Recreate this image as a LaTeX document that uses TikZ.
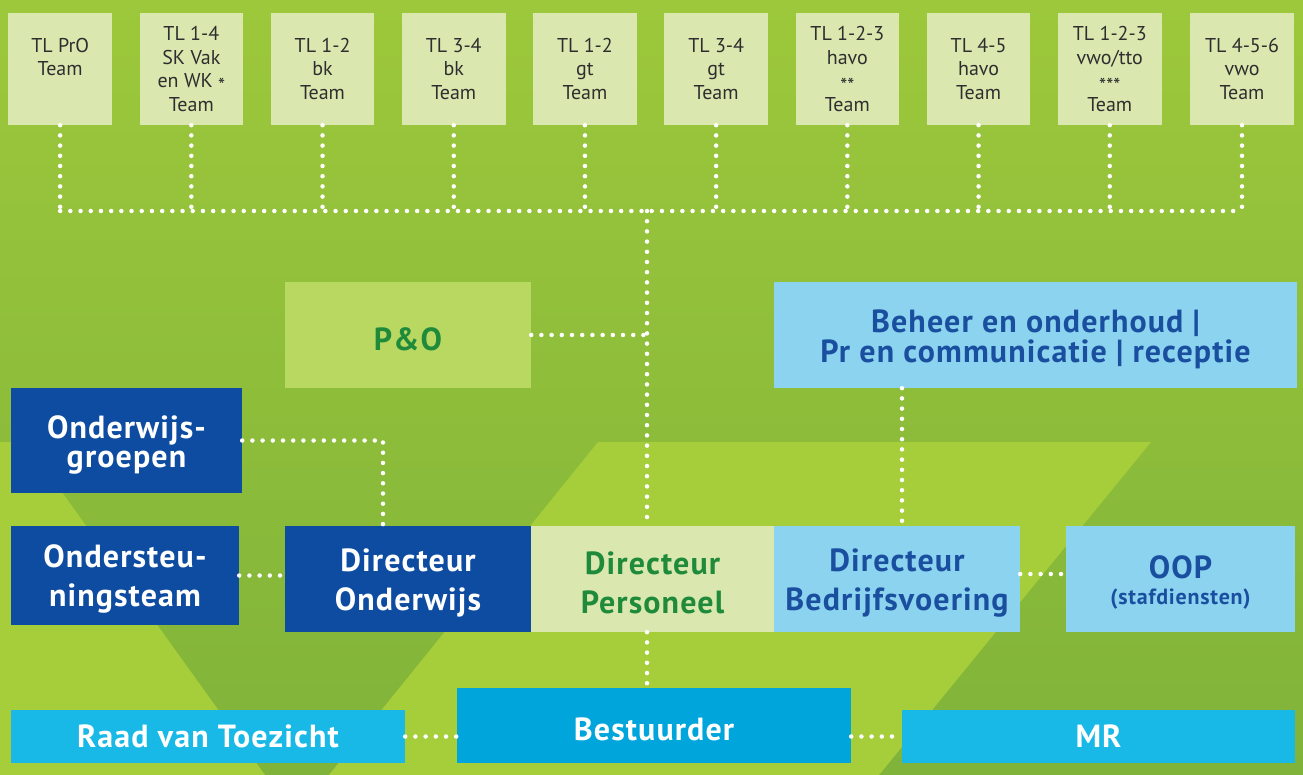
\documentclass[tikz,border=0pt]{standalone}
\usepackage{fontspec}
\setmainfont{PT Sans}[BoldFeatures={LetterSpace=3.5}]
\setlength{\lineskiplimit}{-100pt}
\definecolor{bgtop}{HTML}{9DC83B}
\definecolor{bgbot}{HTML}{80B33A}
\definecolor{lightg}{HTML}{A6CE3A}
\definecolor{paleg}{HTML}{DAE8B0}
\definecolor{pog}{HTML}{B8D862}
\definecolor{lblue}{HTML}{8BD3EF}
\definecolor{dblue}{HTML}{0D4CA0}
\definecolor{cyanb}{HTML}{18B9E6}
\definecolor{bestc}{HTML}{00A6DB}
\definecolor{dgreen}{HTML}{1E8A3A}
\definecolor{tblue}{HTML}{1A4FA0}
\definecolor{tgrey}{HTML}{2E2E2E}
\newcommand{\lowstar}[1]{\raisebox{-5pt}{#1}}
\tikzset{
  box/.style={inner sep=0pt, align=center, draw=none},
  tbox/.style={box, fill=paleg, minimum width=103.5pt, minimum height=112pt,
    font=\fontsize{20}{23.8}\selectfont, text=tgrey},
  lowered/.style={execute at begin node={\rule{0pt}{#1}}},
  bigtxt/.style={font=\bfseries\fontsize{32}{39}\selectfont},
  tighttxt/.style={font=\bfseries\fontsize{32}{30}\selectfont},
  conn/.style={draw=white, line width=4.5pt, line cap=round, dash pattern=on 0pt off 10.2pt}
}
\begin{document}
\begin{tikzpicture}[x=1pt,y=-1pt]
\useasboundingbox (0,0) rectangle (1303,775);
% background
\shade[top color=bgtop, bottom color=bgbot] (0,0) rectangle (1303,775);
\fill[lightg] (0,442) -- (26,442) -- (265,775) -- (0,775) -- cycle;
\fill[lightg] (598,442) -- (1151,442) -- (879,775) -- (329,775) -- cycle;

% top team boxes
\node[tbox] (t1) at (60.15,69) {TL PrO\\Team\\\phantom{Team}};
\node[tbox] (t2) at (191.35,69) {TL 1-4\\SK Vak\\en WK \lowstar{*}\\Team};
\node[tbox] (t3) at (322.55,69) {TL 1-2\\bk\\Team};
\node[tbox] (t4) at (453.75,69) {TL 3-4\\bk\\Team};
\node[tbox] (t5) at (584.95,69) {TL 1-2\\gt\\Team};
\node[tbox] (t6) at (716.15,69) {TL 3-4\\gt\\Team};
\node[tbox] (t7) at (847.35,69) {TL 1-2-3\\havo\\\lowstar{**}\\Team};
\node[tbox] (t8) at (978.55,69) {TL 4-5\\havo\\Team};
\node[tbox] (t9) at (1109.75,69) {TL 1-2-3\\vwo/tto\\\lowstar{***}\\Team};
\node[tbox] (t10) at (1242,69) {TL 4-5-6\\vwo\\Team};

% middle boxes
\node[box, fill=pog, minimum width=246pt, minimum height=106pt, bigtxt, lowered=31pt, text=dgreen] (po) at (408,335) {P\&O};
\node[box, fill=lblue, minimum width=523pt, minimum height=106pt, tighttxt, lowered=61pt, text=tblue] (bh) at (1035.5,335) {Beheer en onderhoud |\\Pr en communicatie | receptie};
\node[box, fill=dblue, minimum width=231pt, minimum height=105pt, lowered=60pt, text=white, font=\bfseries\fontsize{32}{29}\selectfont] (og) at (126.5,440.5) {Onderwijs-\\groepen};
\node[box, fill=dblue, minimum width=228pt, minimum height=99pt, bigtxt, lowered=68pt, text=white] (ost) at (125,575.5) {Ondersteu-\\ningsteam};
\node[box, fill=dblue, minimum width=246pt, minimum height=106pt, bigtxt, lowered=70pt, text=white] (do) at (408,579) {Directeur\\Onderwijs};
\node[box, fill=paleg, minimum width=243pt, minimum height=106pt, bigtxt, lowered=70pt, text=dgreen] (dp) at (652.5,579) {Directeur\\Personeel};
\node[box, fill=lblue, minimum width=246pt, minimum height=106pt, bigtxt, lowered=70pt, text=tblue] (db) at (897,579) {Directeur\\Bedrijfsvoering};
\node[box, fill=lblue, minimum width=229pt, minimum height=106pt, text=tblue, lowered=55pt, font=\bfseries\fontsize{22}{26}\selectfont] (oop) at (1180.5,579) {{\fontsize{32}{26}\selectfont OOP}\\(stafdiensten)};

% bottom boxes
\node[box, fill=cyanb, minimum width=394pt, minimum height=53pt, bigtxt, text=white] (raad) at (208,736.5) {Raad van Toezicht};
\node[box, fill=bestc, minimum width=394pt, minimum height=75pt, bigtxt, lowered=30pt, text=white] (best) at (654,725.5) {Bestuurder};
\node[box, fill=cyanb, minimum width=393pt, minimum height=53pt, bigtxt, text=white] (mr) at (1098.5,736.5) {MR};

% connectors
\coordinate (bus) at (647,211);
\foreach \i in {1,...,10} \draw[conn] (t\i.south) -- (t\i.south |- bus);
\draw[conn] (t1.south |- bus) -- (t10.south |- bus);
\draw[conn] (bus) -- (bus |- dp.north);
\draw[conn] (po.east) -- (po.east -| bus);
\draw[conn] (bus |- dp.south) -- (bus |- best.north);
\draw[conn] ([xshift=5pt]db.north |- bh.south) -- ([xshift=5pt]db.north);
\draw[conn] (og.east) -| ([xshift=-25pt]do.north);
\draw[conn] (ost.east) -- (ost.east -| do.west);
\draw[conn] ([yshift=5pt]db.east) -- ([yshift=5pt]db.east -| oop.west);
\draw[conn] (raad.east) -- (raad.east -| best.west);
\draw[conn] (mr.west -| best.east) -- (mr.west);
\end{tikzpicture}
\end{document}
